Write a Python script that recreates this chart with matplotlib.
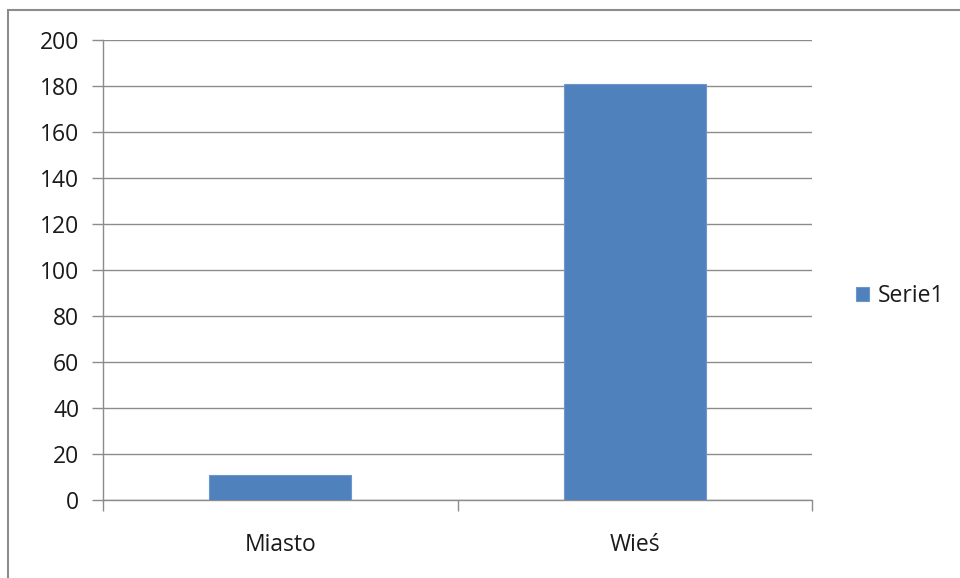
import matplotlib
matplotlib.use("Agg")
import matplotlib.pyplot as plt
from matplotlib.patches import Rectangle

categories = ["Miasto", "Wieś"]
values = [11, 181]
series_name = "Serie1"
yticks = [0, 20, 40, 60, 80, 100, 120, 140, 160, 180, 200]

plt.rcParams['font.family'] = ['Open Sans', 'DejaVu Sans']
FS = 16.5

W, H = 960, 578
fig = plt.figure(figsize=(W/100, H/100), dpi=100)

# outer frame
fig.patches.append(Rectangle((8/W, -0.05), 1.0, (H - 10)/H + 0.05, transform=fig.transFigure,
                             fill=False, edgecolor='#8c8c8c', linewidth=1.5))

left, right, top, bottom = 103, 812, 40, 500
ax = fig.add_axes([left/W, 1 - bottom/H, (right-left)/W, (bottom-top)/H])

x = list(range(len(categories)))
bars = ax.bar(x, values, width=0.4, color='#4f81bd', edgecolor='#6d97cc', linewidth=0.8,
              label=series_name, zorder=3)
ax.set_xlim(-0.5, len(categories) - 0.5)
ax.set_ylim(0, 200)
ax.set_yticks(yticks)
ax.set_yticklabels([str(t) for t in yticks])
ax.yaxis.grid(True, color='#8c8c8c', linewidth=1.0, zorder=0)

ax.set_xticks(x)
ax.set_xticklabels(categories)
ax.set_xticks([i - 0.5 for i in range(len(categories) + 1)], minor=True)
ax.tick_params(axis='x', which='major', length=0, pad=24, labelsize=FS)
ax.tick_params(axis='x', which='minor', length=8, width=1.0, color='#8c8c8c', direction='out')
ax.tick_params(axis='y', length=8, width=1.0, color='#8c8c8c', direction='out', pad=9,
               labelsize=FS)
for lab in ax.get_xticklabels() + ax.get_yticklabels():
    lab.set_color('#1a1a1a')

for s in ['top', 'right']:
    ax.spines[s].set_visible(False)
for s in ['left', 'bottom']:
    ax.spines[s].set_color('#8c8c8c')
    ax.spines[s].set_linewidth(1.0)

leg = fig.legend(handles=[bars], labels=[series_name], loc='center left',
                 bbox_to_anchor=(835/W, 1 - 296/H), frameon=False, fontsize=FS,
                 handlelength=0.6, handleheight=0.6, handletextpad=0.35)
for t in leg.get_texts():
    t.set_color('#1a1a1a')

fig.savefig("out.png", dpi=100)
